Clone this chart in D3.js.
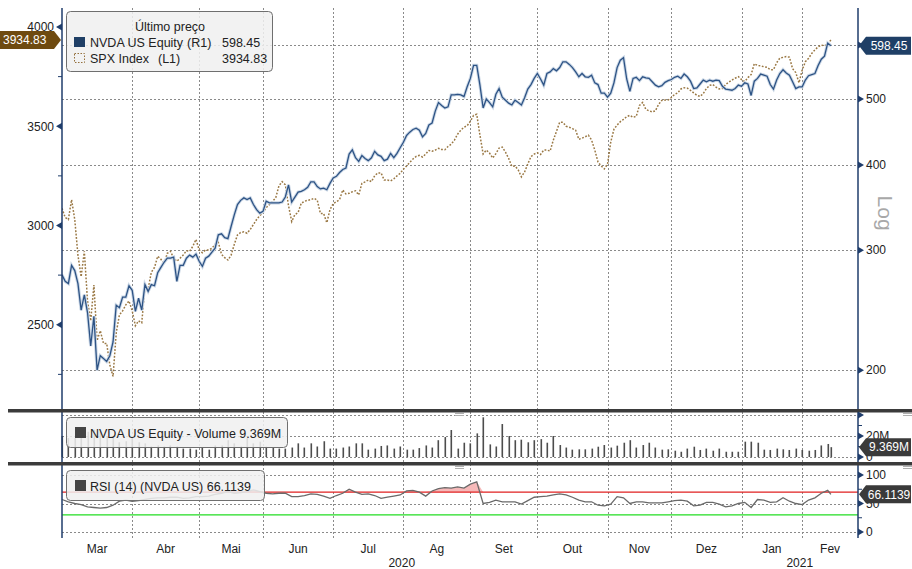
<!DOCTYPE html>
<html>
<head>
<meta charset="utf-8">
<script src="https://cdn.jsdelivr.net/npm/d3@7"></script>
<style>
  body { margin: 0; background: #fff; }
  svg text { font-family: "Liberation Sans", Arial, sans-serif; }
</style>
</head>
<body>
<div id="chart"></div>
<script>
// x categories: trading-session index, 0 = 2 Mar 2020 ... 241 = 12 Feb 2021
const sessions = d3.range(0, 242);
// volume and RSI were read every second session
const sessions2 = d3.range(0, 241, 2).concat([241]);
const monthLabels = ["Mar", "Abr", "Mai", "Jun", "Jul", "Ag", "Set", "Out", "Nov", "Dez", "Jan", "Fev"];
const monthStarts = [0, 22, 43, 63, 85, 107, 128, 149, 171, 191, 213, 232];
const yearLabels = ["2020", "2021"];
const yearStarts = [0, 213];
const lastDomainIdx = 249.5;

// NVDA US Equity (R1, log scale), daily
const nvda = [276, 270, 268, 285, 280, 268, 245, 258, 243, 217,
  240, 200, 210, 208, 206, 210, 220, 249, 247, 256,
  256, 266, 262, 244, 255, 245, 267, 261, 267, 266,
  278, 283, 288, 292, 292, 293, 270, 285, 285, 292,
  295, 293, 296, 289, 284, 292, 294, 298, 302, 316,
  317, 313, 312, 325, 338, 350, 355, 358, 356, 358,
  350, 344, 340, 342, 354, 352, 352, 352, 352, 353,
  359, 374, 353, 359, 365, 366, 368, 371, 378, 378,
  372, 369, 370, 368, 376, 383, 385, 390, 394, 396,
  415, 421, 410, 405, 413, 409, 406, 410, 419, 414,
  412, 406, 408, 416, 410, 416, 424, 432, 442, 447,
  451, 453, 450, 440, 445, 458, 461, 480, 494, 489,
  485, 487, 507, 507, 508, 507, 504, 521, 536, 560,
  560, 524, 485, 500, 494, 487, 508, 518, 503, 498,
  493, 490, 498, 494, 490, 502, 517, 525, 536, 545,
  535, 524, 545, 548, 554, 550, 556, 567, 567, 562,
  556, 548, 539, 545, 539, 538, 542, 528, 525, 510,
  510, 503, 510, 528, 556, 570, 575, 535, 513, 536,
  538, 532, 539, 537, 536, 530, 524, 521, 523, 529,
  532, 534, 538, 540, 536, 544, 539, 531, 518, 519,
  526, 533, 530, 533, 531, 533, 532, 522, 517, 516,
  515, 518, 524, 522, 528, 526, 506, 531, 536, 544,
  542, 540, 525, 517, 533, 545, 552, 546, 542, 530,
  518, 521, 521, 533, 541, 543, 545, 560, 572, 578,
  604, 598.45];

// SPX Index (L1), daily
const spx = [3087, 3040, 3030, 3130, 3030, 2850, 2742, 2870, 2620, 2520,
  2700, 2420, 2470, 2406, 2406, 2297, 2240, 2460, 2550, 2570,
  2600, 2620, 2570, 2495, 2520, 2510, 2690, 2680, 2765, 2789,
  2845, 2830, 2806, 2860, 2870, 2835, 2820, 2835, 2851, 2873,
  2870, 2895, 2930, 2877, 2863, 2877, 2877, 2885, 2905, 2915,
  2855, 2838, 2826, 2850, 2905, 2952, 2965, 2968, 2961, 2980,
  3005, 3030, 3050, 3065, 3090, 3105, 3122, 3140, 3200, 3221,
  3205, 3100, 3020, 3055, 3065, 3112, 3122, 3127, 3130, 3137,
  3128, 3061, 3061, 3014, 3080, 3110, 3120, 3130, 3179, 3159,
  3162, 3170, 3175, 3154, 3212, 3220, 3229, 3221, 3250, 3265,
  3265, 3229, 3229, 3225, 3235, 3250, 3263, 3283, 3300, 3318,
  3335, 3348, 3353, 3345, 3360, 3378, 3374, 3380, 3389, 3383,
  3382, 3398, 3410, 3430, 3460, 3480, 3495, 3503, 3525, 3555,
  3560, 3455, 3360, 3380, 3365, 3340, 3362, 3390, 3395, 3370,
  3338, 3298, 3300, 3280, 3245, 3270, 3310, 3347, 3360, 3366,
  3358, 3380, 3380, 3375, 3430, 3475, 3520, 3520, 3500, 3495,
  3488, 3480, 3434, 3440, 3447, 3455, 3430, 3380, 3320, 3300,
  3285, 3310, 3420, 3485, 3506, 3523, 3535, 3548, 3555, 3545,
  3550, 3605, 3620, 3585, 3578, 3572, 3578, 3610, 3630, 3632,
  3632, 3645, 3660, 3668, 3688, 3694, 3692, 3681, 3668, 3656,
  3650, 3665, 3690, 3706, 3710, 3697, 3688, 3690, 3710, 3722,
  3733, 3742, 3750, 3735, 3725, 3745, 3760, 3815, 3806, 3804,
  3800, 3797, 3785, 3785, 3820, 3843, 3847, 3851, 3848, 3790,
  3770, 3719, 3783, 3825, 3842, 3867, 3885, 3900, 3909, 3905,
  3914, 3934.83];

// NVDA volume, millions (every second session)
const volume = [20, 18, 18, 22, 24, 26, 24, 20, 18, 14,
  15, 18, 14, 13, 10, 11, 10, 11, 10, 8,
  8, 7, 9, 7, 11, 11, 16, 13, 10, 18,
  13, 14.6, 9.8, 9, 8, 8, 9, 13, 9, 13,
  10, 15, 8, 8, 9, 10, 13, 13, 7, 8,
  10.5, 11, 8, 10, 7, 7, 8.5, 11, 9, 16,
  19, 25.7, 8, 13.6, 13, 22.5, 37.8, 12, 10, 31.4,
  20, 16, 16.5, 14, 16, 17, 13.6, 20, 11.4, 9,
  7, 7.3, 7.3, 8, 9.8, 11.4, 9, 10.8, 13.6, 16,
  9, 11.4, 13.6, 9, 7, 7.3, 6, 5, 8, 9.8,
  6.7, 8, 6, 8, 5, 5, 5, 14.6, 14.6, 13.6,
  7, 6.7, 8, 7.3, 6.7, 8, 6.7, 6, 6.7, 11,
  12.4, 9.369];

// RSI (14) (every second session)
const rsi = [57, 53, 50, 48, 44, 43, 42, 43, 47, 54,
  56, 54, 55, 57, 59, 60, 60, 61, 61, 59,
  60, 62, 62, 63, 66, 68, 71, 68, 69, 71,
  74, 71, 68, 67, 68, 68, 62, 62, 64, 67,
  66, 63, 59, 64, 68, 75, 70, 66, 67, 64,
  59, 61, 63, 65, 72, 73, 70, 63, 72, 76,
  78, 77, 79, 77, 84, 88, 50, 52, 56, 53,
  53, 53, 49, 55, 61, 62, 63, 65, 67, 65,
  61, 56, 53, 53, 47, 46, 49, 62, 60, 50,
  53, 53, 51, 51, 51, 53, 55, 56, 54, 46,
  47, 52, 52, 49, 44, 46, 50, 52, 43, 57,
  56, 52, 53, 60, 54, 50, 48, 56, 60, 68,
  73, 66.1139];

const leftTicks = [2500, 3000, 3500, 4000];
const leftMinor = [2250, 2750, 3250, 3750];
const rightTicks = [200, 300, 400, 500, 600];
const volTicks = [0, 20, 40];
const rsiTicks = [0, 50, 100];

const price = sessions.map((d, i) => ({ i: d, nvda: nvda[i], spx: spx[i] }));
const ind = sessions2.map((d, i) => ({ i: d, vol: volume[i], rsi: rsi[i] }));
const lastP = price[price.length - 1];
const lastI = ind[ind.length - 1];

const W = 912, H = 569;
const L = 62, R = 858;
const navy = "#1f3d6b";

const svg = d3.select("#chart").append("svg")
  .attr("width", W).attr("height", H);

const x = d3.scaleLinear().domain([0, lastDomainIdx]).range([L, R]);
const yL = d3.scaleLinear().domain([2080.6, 4095.7]).range([408, 8]);
const yR = d3.scaleLog().domain([176, 680]).range([408, 8]);
const yV = d3.scaleLinear().domain([0, 20]).range([457, 436]);
const yS = d3.scaleLinear().domain([0, 100]).range([532, 475]);

svg.append("clipPath").attr("id", "clipMain")
  .append("rect").attr("x", L).attr("y", 8).attr("width", R - L).attr("height", 400);

// grids
const grid = svg.append("g").attr("stroke", "#8a8a8a").attr("stroke-dasharray", "2,2").attr("stroke-width", 1);
grid.selectAll(".vg").data(monthStarts.slice(1)).join("line")
  .attr("x1", d => Math.round(x(d)) + 0.5).attr("x2", d => Math.round(x(d)) + 0.5)
  .attr("y1", 8).attr("y2", 538);
grid.selectAll(".hg").data(rightTicks).join("line")
  .attr("x1", L).attr("x2", R)
  .attr("y1", d => Math.round(yR(d)) + 0.5).attr("y2", d => Math.round(yR(d)) + 0.5);
grid.selectAll(".vgv").data(volTicks).join("line")
  .attr("x1", L).attr("x2", R)
  .attr("y1", d => Math.round(yV(d)) + 0.5).attr("y2", d => Math.round(yV(d)) + 0.5);
grid.selectAll(".rg").data(rsiTicks).join("line")
  .attr("x1", L).attr("x2", R)
  .attr("y1", d => Math.round(yS(d)) + 0.5).attr("y2", d => Math.round(yS(d)) + 0.5);

// main lines
const main = svg.append("g").attr("clip-path", "url(#clipMain)");
const lineSpx = d3.line().x(d => x(d.i)).y(d => yL(d.spx));
const lineNvda = d3.line().x(d => x(d.i)).y(d => yR(d.nvda));
main.append("path").datum(price).attr("d", lineSpx)
  .attr("fill", "none").attr("stroke", "#9a7844").attr("stroke-width", 1.5)
  .attr("stroke-dasharray", "1.8,1.6");
main.append("path").datum(price).attr("d", lineNvda)
  .attr("fill", "none").attr("stroke", "#ccd8e6").attr("stroke-width", 3.2);
main.append("path").datum(price).attr("d", lineNvda)
  .attr("fill", "none").attr("stroke", "#2d5385").attr("stroke-width", 1.3);

// volume bars
svg.append("g").selectAll("rect").data(ind).join("rect")
  .attr("x", d => Math.round(x(d.i)) - 0.5).attr("width", 1.6)
  .attr("y", d => yV(d.vol)).attr("height", d => yV(0) - yV(d.vol))
  .attr("fill", "#4d4d4d");

// RSI
const rsiArea = d3.area().x(d => x(d.i)).y0(yS(70)).y1(d => yS(Math.max(d.rsi, 70)));
svg.append("path").datum(ind).attr("d", rsiArea).attr("fill", "#f6b9b9");
svg.append("line").attr("x1", L).attr("x2", R).attr("y1", yS(70)).attr("y2", yS(70))
  .attr("stroke", "#e02020").attr("stroke-width", 1.2);
svg.append("line").attr("x1", L).attr("x2", R).attr("y1", yS(30)).attr("y2", yS(30))
  .attr("stroke", "#22dd22").attr("stroke-width", 1.2);
svg.append("path").datum(ind)
  .attr("d", d3.line().x(d => x(d.i)).y(d => yS(d.rsi)))
  .attr("fill", "none").attr("stroke", "#6a6a6a").attr("stroke-width", 1.3);

// axis lines
svg.append("line").attr("x1", L).attr("x2", L).attr("y1", 8).attr("y2", 538).attr("stroke", navy).attr("stroke-width", 1.5);
svg.append("line").attr("x1", R).attr("x2", R).attr("y1", 8).attr("y2", 538).attr("stroke", navy).attr("stroke-width", 1.5);

// panel separators
[409, 462].forEach(y => {
  svg.append("rect").attr("x", 8).attr("y", y).attr("width", W - 8).attr("height", 3.5).attr("fill", "#3b3b3b");
  [455, 903].forEach(gx => {
    svg.append("line").attr("x1", gx).attr("x2", gx + 9).attr("y1", y + 4.5).attr("y2", y + 4.5).attr("stroke", "#b0b0b0");
    svg.append("line").attr("x1", gx).attr("x2", gx + 9).attr("y1", y + 6.5).attr("y2", y + 6.5).attr("stroke", "#b0b0b0");
  });
});

// ticks
function rightTri(g, ys) {
  g.selectAll(null).data(ys).join("path")
    .attr("d", y => `M${R},${y - 3.5}L${R + 6},${y}L${R},${y + 3.5}Z`).attr("fill", navy);
}
function rightMinor(g, ys) {
  g.selectAll(null).data(ys).join("line")
    .attr("x1", R).attr("x2", R + 4).attr("y1", y => y).attr("y2", y => y).attr("stroke", navy);
}
function rightLabels(g, items) {
  g.selectAll(null).data(items).join("text")
    .attr("x", R + 8).attr("y", d => d[0]).attr("dy", "0.36em")
    .attr("font-size", 12).attr("fill", "#222").text(d => d[1]);
}
const ax = svg.append("g");
// left SPX
ax.selectAll(null).data(leftTicks).join("path")
  .attr("d", v => `M${L},${yL(v) - 3.5}L${L - 6},${yL(v)}L${L},${yL(v) + 3.5}Z`).attr("fill", navy);
ax.selectAll(null).data(leftMinor).join("line")
  .attr("x1", L - 4).attr("x2", L).attr("y1", v => yL(v)).attr("y2", v => yL(v)).attr("stroke", navy);
ax.selectAll(null).data(leftTicks).join("text")
  .attr("x", L - 8).attr("y", v => yL(v)).attr("dy", "0.36em").attr("text-anchor", "end")
  .attr("font-size", 12).attr("fill", "#222").text(v => v);
// right NVDA (600 sits under the last-value tag)
rightTri(ax, rightTicks.map(v => yR(v)));
rightLabels(ax, rightTicks.filter(v => v < 600).map(v => [yR(v), v]));
// volume
rightTri(ax, volTicks.map(v => yV(v)));
rightMinor(ax, [10, 30].map(v => yV(v)));
rightLabels(ax, [[yV(0), "0"], [yV(20), "20M"]]);
// RSI
rightTri(ax, rsiTicks.map(v => yS(v)));
rightMinor(ax, [25, 75].map(v => yS(v)));
rightLabels(ax, rsiTicks.map(v => [yS(v), v]));

svg.append("text").attr("transform", `translate(878,${yR(340)}) rotate(90)`)
  .attr("text-anchor", "middle").attr("font-size", 21).attr("fill", "#a8a8a8").text("Log");

// last value tags
function tagRight(y, txt, fill) {
  svg.append("path").attr("d", `M${R + 1},${y}L${R + 8},${y - 9}L${W - 1},${y - 9}L${W - 1},${y + 9}L${R + 8},${y + 9}Z`)
    .attr("fill", fill);
  svg.append("text").attr("x", (R + 8 + W) / 2).attr("y", y).attr("dy", "0.36em").attr("text-anchor", "middle")
    .attr("font-size", 12).attr("fill", "#fff").text(txt);
}
tagRight(yR(lastP.nvda), d3.format(".2f")(lastP.nvda), "#1f3f66");
tagRight(yV(lastI.vol), lastI.vol + "M", "#3a3a3a");
tagRight(yS(lastI.rsi), lastI.rsi, "#3a3a3a");
const ys = yL(lastP.spx);
svg.append("path").attr("d", `M0,${ys - 9}L${L - 8},${ys - 9}L${L - 1},${ys}L${L - 8},${ys + 9}L0,${ys + 9}Z`).attr("fill", "#6e4a10");
svg.append("text").attr("x", 3).attr("y", ys).attr("dy", "0.36em").attr("font-size", 12).attr("fill", "#fff").text(lastP.spx);

// legends
function box(x0, y0, w, h) {
  svg.append("rect").attr("x", x0 + 0.5).attr("y", y0 + 0.5).attr("width", w).attr("height", h).attr("rx", 4)
    .attr("fill", "rgba(240,240,240,0.86)").attr("stroke", "#6f6f6f");
}
box(66, 11, 206, 60);
svg.append("text").attr("x", 170).attr("y", 31).attr("text-anchor", "middle").attr("font-size", 12.5).attr("fill", "#222").text("Último preço");
svg.append("rect").attr("x", 74).attr("y", 37).attr("width", 11).attr("height", 10).attr("fill", "#1f3f66");
svg.append("rect").attr("x", 74.5).attr("y", 53.5).attr("width", 10).attr("height", 9).attr("fill", "none")
  .attr("stroke", "#94703c").attr("stroke-dasharray", "1.5,1.5");
const lg = svg.append("g").attr("font-size", 12.5).attr("fill", "#222");
lg.append("text").attr("x", 90).attr("y", 47).text("NVDA US Equity");
lg.append("text").attr("x", 187).attr("y", 47).text("(R1)");
lg.append("text").attr("x", 222).attr("y", 47).text(d3.format(".2f")(lastP.nvda));
lg.append("text").attr("x", 90).attr("y", 63).text("SPX Index");
lg.append("text").attr("x", 158).attr("y", 63).text("(L1)");
lg.append("text").attr("x", 222).attr("y", 63).text(lastP.spx);

box(66, 417, 221, 30);
svg.append("rect").attr("x", 75).attr("y", 427).attr("width", 11).attr("height", 11).attr("fill", "#444");
svg.append("text").attr("x", 90).attr("y", 438).attr("font-size", 12.5).attr("fill", "#222")
  .text("NVDA US Equity - Volume " + lastI.vol + "M");

box(66, 470, 198, 30);
svg.append("rect").attr("x", 75).attr("y", 480).attr("width", 11).attr("height", 11).attr("fill", "#444");
svg.append("text").attr("x", 90).attr("y", 491).attr("font-size", 12.5).attr("fill", "#222")
  .text("RSI (14) (NVDA US) " + lastI.rsi);

// x axis labels
const monthEnds = monthStarts.slice(1).concat([lastDomainIdx]);
svg.append("g").selectAll("text").data(monthLabels).join("text")
  .attr("x", (d, k) => (x(monthStarts[k]) + x(monthEnds[k])) / 2).attr("y", 553)
  .attr("text-anchor", "middle").attr("font-size", 12).attr("fill", "#222").text(d => d);
const yearEnds = [yearStarts[1], lastDomainIdx];
svg.append("g").selectAll("text").data(yearLabels).join("text")
  .attr("x", (d, k) => (x(yearStarts[k]) + x(yearEnds[k])) / 2).attr("y", 567)
  .attr("text-anchor", "middle").attr("font-size", 12).attr("fill", "#222").text(d => d);
</script>
</body>
</html>
